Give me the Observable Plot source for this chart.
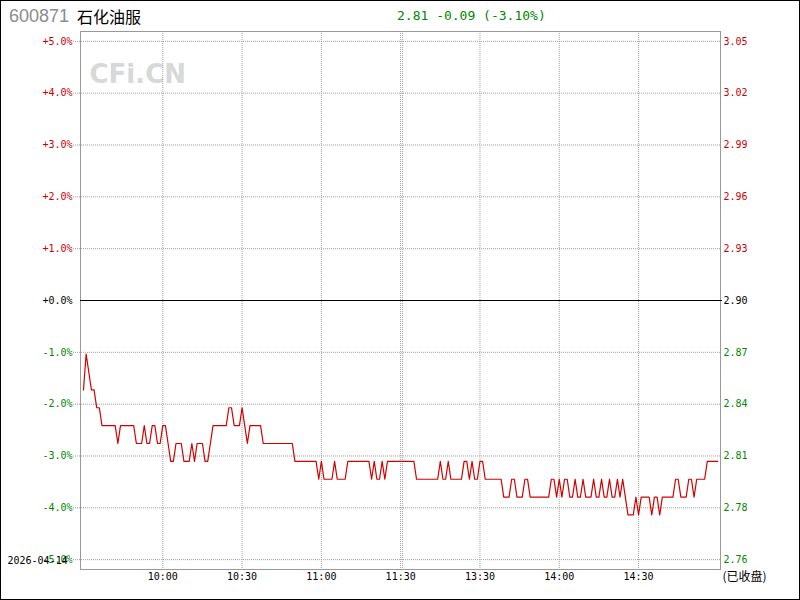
<!DOCTYPE html>
<html><head><meta charset="utf-8">
<script src="https://cdn.jsdelivr.net/npm/d3@7"></script>
<script src="https://cdn.jsdelivr.net/npm/@observablehq/plot@0.6"></script>
<style>
body{margin:0;background:#fff}
#wrap{position:relative;width:800px;height:600px;overflow:hidden;background:#fff}
#chart{position:absolute;left:0;top:0}
#border{position:absolute;left:0;top:0;width:800px;height:600px;box-sizing:border-box;border:1px solid #000;pointer-events:none}
.hd{position:absolute;white-space:nowrap}
</style></head><body>
<div id="wrap">
  <div id="chart"></div>
  <div class="hd" id="code" style="left:9px;top:7px;font:18px/18px 'Liberation Sans',Arial,sans-serif;color:#8c8c8c"></div>
  <div class="hd" id="name" style="left:77px;top:8px;font:16px/16px 'Noto Sans CJK SC',sans-serif;color:#000"></div>
  <div class="hd" id="quote" style="left:397px;top:9px;font:13px/13px 'DejaVu Sans Mono',monospace;color:#008800"></div>
  <div id="border"></div>
</div>
<script>
const stockCode = "600871";
const stockName = "石化油服";
const prevClose = 2.90;
const lastPrice = 2.81;
const change = -0.09;
const changePct = -3.10;
const tradeDate = "2026-04-14";
const statusLabel = "(已收盘)";
const watermark = "CFi.CN";

// minute prices (in cents), 9:30 .. 11:30, 13:01 .. 15:00
const prices = [
  285,287,286,285,285,284,284,283,283,283,
  283,283,283,282,283,283,283,283,283,283,
  282,282,282,283,282,282,283,283,282,282,
  283,283,282,281,281,282,282,282,281,281,
  281,282,281,282,282,282,281,281,282,283,
  283,283,283,283,283,284,284,283,283,283,
  284,283,282,283,283,283,283,283,282,282,
  282,282,282,282,282,282,282,282,282,282,
  281,281,281,281,281,281,281,281,281,280,
  281,280,280,280,280,281,280,280,280,280,
  281,281,281,281,281,281,281,281,281,280,
  281,280,280,281,280,281,281,281,281,281,
  281,281,281,281,281,281,280,280,280,280,
  280,280,280,280,280,281,280,280,281,280,
  280,280,280,280,281,281,280,281,280,280,
  281,281,280,280,280,280,280,280,280,279,
  279,279,280,280,279,279,279,280,280,279,
  279,279,279,279,279,279,279,280,280,279,
  280,279,280,280,279,279,280,279,279,280,
  279,279,279,280,279,279,280,279,279,280,
  279,279,280,279,280,279,278,278,278,279,
  278,279,279,279,279,278,279,279,278,279,
  279,279,279,279,280,280,279,279,279,280,
  280,279,280,280,280,280,281,281,281,281,
  281
];

const pctTicks = [5,4,3,2,1,0,-1,-2,-3,-4,-5];
const priceTickLabels = ["3.05","3.02","2.99","2.96","2.93","2.90","2.87","2.84","2.81","2.78","2.76"];
const timeTicks = [30,60,90,120,150,180,210];
const timeTickLabels = ["10:00","10:30","11:00","11:30","13:30","14:00","14:30"];
const sessionBreak = [120];

document.getElementById("code").textContent = stockCode;
document.getElementById("name").textContent = stockName;
document.getElementById("quote").textContent =
  `${lastPrice.toFixed(2)} ${change.toFixed(2)} (${changePct.toFixed(2)}%)`;

const RED = "#cc0000", GREEN = "#008800", GRID = "#a0a0a0";
const mono = "'DejaVu Sans Mono', monospace";
const series = prices.map((p, i) => ({i, pct: (p / 100 / prevClose - 1) * 100}));
const fmtPct = d => (d >= 0 ? "+" : "-") + Math.abs(d).toFixed(1) + "%";
const rightTicks = pctTicks.map((p, k) => ({p, label: priceTickLabels[k]}));

const chart = Plot.plot({
  width: 800, height: 600,
  marginTop: 31, marginBottom: 31, marginLeft: 80, marginRight: 80,
  x: {domain: [-1.13, 241], axis: null},
  y: {domain: [-5.19, 5.19], axis: null},
  style: {fontFamily: mono, fontSize: "10px", background: "transparent", overflow: "visible"},
  marks: [
    Plot.text([watermark], {frameAnchor: "top-left", textAnchor: "start", dx: 9, dy: 33.5,
      fontSize: 26, fontWeight: "bold", fontFamily: "'DejaVu Sans', sans-serif", fill: "#d8d8d8"}),
    Plot.ruleY(pctTicks.filter(d => d !== 0), {stroke: GRID, strokeDasharray: "1,1", insetLeft: -7}),
    Plot.ruleX(timeTicks, {stroke: GRID, strokeDasharray: "1,1"}),
    Plot.ruleX(sessionBreak, {stroke: GRID, strokeDasharray: "1,1", dx: 2}),
    Plot.frame({stroke: "#999"}),
    Plot.ruleY([0], {stroke: "#000", insetRight: -2}),
    Plot.line(series, {x: "i", y: "pct", stroke: "#d40000", strokeWidth: 1.2}),
    Plot.text(pctTicks.filter(d => d > 0), {y: d => d, frameAnchor: "left", textAnchor: "end", dx: -8, text: fmtPct, fill: RED}),
    Plot.text(pctTicks.filter(d => d === 0), {y: d => d, frameAnchor: "left", textAnchor: "end", dx: -8, text: fmtPct, fill: "#000"}),
    Plot.text(pctTicks.filter(d => d < 0), {y: d => d, frameAnchor: "left", textAnchor: "end", dx: -8, text: fmtPct, fill: GREEN}),
    Plot.text(rightTicks.filter(d => d.p > 0), {y: "p", text: "label", frameAnchor: "right", textAnchor: "start", dx: 3, fill: RED}),
    Plot.text(rightTicks.filter(d => d.p === 0), {y: "p", text: "label", frameAnchor: "right", textAnchor: "start", dx: 3, fill: "#000"}),
    Plot.text(rightTicks.filter(d => d.p < 0), {y: "p", text: "label", frameAnchor: "right", textAnchor: "start", dx: 3, fill: GREEN}),
    Plot.text(timeTicks, {x: d => d, frameAnchor: "bottom", dy: 10, text: (d, k) => timeTickLabels[k], fill: "#000"}),
    Plot.text([tradeDate], {frameAnchor: "bottom-left", textAnchor: "start", dx: -73, dy: -6, fill: "#000"}),
    Plot.text([statusLabel], {frameAnchor: "bottom-right", textAnchor: "start", dx: 2, dy: 11,
      fontFamily: "'Noto Sans CJK SC', sans-serif", fontSize: 12, fill: "#000"})
  ]
});
document.getElementById("chart").appendChild(chart);
</script>
</body></html>
